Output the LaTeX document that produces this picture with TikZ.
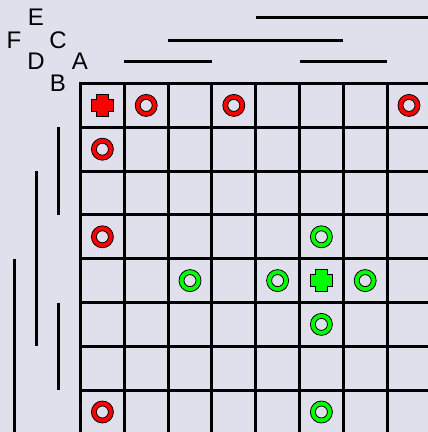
\documentclass[tikz,border=0pt]{standalone}
\usepackage{fontspec}
\setmainfont{Liberation Sans}
\definecolor{paper}{RGB}{224,224,236}
\newcommand{\ringat}[3]{\path[shift={({102.4+43.8*#1},{105.4+43.8*#2})}, fill=#3, draw=black, line width=0.8pt, even odd rule] (0,0) circle (11pt) (0,0) circle (6pt);}
\newcommand{\crossat}[3]{\path[shift={({102.4+43.8*#1},{105.4+43.8*#2})}, fill=#3, draw=black, line width=0.8pt] (-6,-11) -- (6,-11) -- (6,-6) -- (11,-6) -- (11,6) -- (6,6) -- (6,11) -- (-6,11) -- (-6,6) -- (-11,6) -- (-11,-6) -- (-6,-6) -- cycle;}
\begin{document}
\begin{tikzpicture}[x=1pt, y=-1pt, gridline/.style={line width=3pt, line cap=rect}, bar/.style={line width=3pt}, letter/.style={font=\fontsize{24}{24}\selectfont, inner sep=0pt}]
	\fill[paper, use as bounding box] (0,0) rectangle (428,432);
	
	\foreach \i in {0,...,7} {
		\draw[gridline] ({80.5+43.8*\i},83.5) -- ({80.5+43.8*\i},440);
		\draw[gridline] (80.5,{83.5+43.8*\i}) -- (440,{83.5+43.8*\i});
	}
	
	\node[letter] (E) at (36,17) {E};
	\node[letter] (F) at (14,40) {F};
	\node[letter] (C) at (58,40) {C};
	\node[letter] (D) at (36,61) {D};
	\node[letter] (A) at (80,61) {A};
	\node[letter] (B) at (58,83) {B};
	
	\draw[bar] (255.7,17) -- (428,17);
	\draw[bar] (168.1,40) -- (343.3,40);
	\draw[bar] (124.3,61) -- (211.9,61);
	\draw[bar] (299.5,61) -- (387.1,61);
	
	\draw[bar] (58,127.3) -- (58,214.9);
	\draw[bar] (58,302.5) -- (58,390.1);
	\draw[bar] (36,171.1) -- (36,346.3);
	\draw[bar] (14,258.7) -- (14,432);
	
	\crossat{0}{0}{red}
	\ringat{1}{0}{red}
	\ringat{3}{0}{red}
	\ringat{7}{0}{red}
	\ringat{0}{1}{red}
	\ringat{0}{3}{red}
	\ringat{0}{7}{red}
	
	\crossat{5}{4}{green}
	\ringat{5}{3}{green}
	\ringat{2}{4}{green}
	\ringat{4}{4}{green}
	\ringat{6}{4}{green}
	\ringat{5}{5}{green}
	\ringat{5}{7}{green}
\end{tikzpicture}
\end{document}
